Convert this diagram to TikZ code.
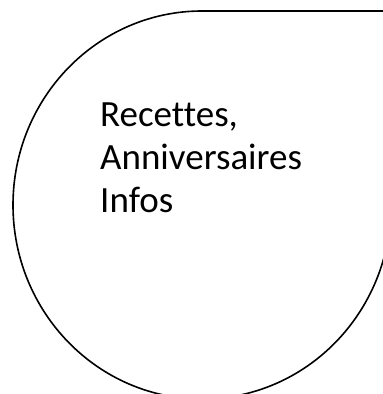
\documentclass[tikz,border=0pt]{standalone}
\usepackage{fontspec}
\setmainfont{Carlito}[Ligatures=NoCommon]

\begin{document}
\begin{tikzpicture}[x=1pt, y=1pt]
            % Define the frame of the picture
            \useasboundingbox (0, 0) rectangle (383, 394);
            \clip (0, 0) rectangle (383, 394);

            % draw the teardrop shape with the square corner at top right
            \draw[line width=1.6pt] (202, 383) -- (391, 383) -- (391, 189)
                arc[start angle=0, end angle=-270, x radius=189, y radius=194] -- cycle;

            % text inside the shape (base is the last line)
            \node[anchor=base west, align=left, inner sep=0pt, font=\fontsize{37}{43}\selectfont] (info) at (100, 181) {Recettes,\\Anniversaires\\Infos};
        \end{tikzpicture}
\end{document}
